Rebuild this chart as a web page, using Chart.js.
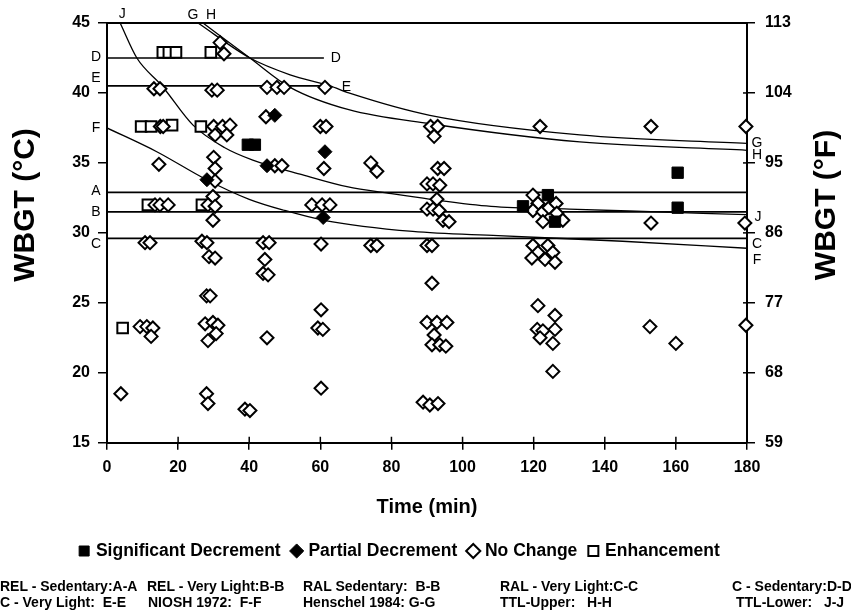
<!DOCTYPE html>
<html><head><meta charset="utf-8">
<script src="https://cdn.jsdelivr.net/npm/chart.js@4/dist/chart.umd.min.js"></script>
<style>
html,body{margin:0;padding:0;background:#fff;}
#wrap{position:relative;width:851px;height:614px;overflow:hidden;}
canvas{display:block;}
.note{position:absolute;font:bold 14px "Liberation Sans",Arial,sans-serif;white-space:pre;color:#000;line-height:16px;}
</style></head><body>
<div id="wrap"><canvas id="c" width="851" height="614"></canvas></div>
<script>
// ---------- data ----------
const xTicks = [0,20,40,60,80,100,120,140,160,180];
const cTicks = [15,20,25,30,35,40,45];
const fTicks = [59,68,77,86,95,104,113];

const sigTime = [39.6,41.6,117,124,126,160.5,160.5];
const sigTemp = [36.3,36.3,31.9,32.7,30.8,34.3,31.8];

const partTime = [28.1,45,47.2,60.8,61.3];
const partTemp = [33.8,34.8,38.4,31.1,35.8];

const enhTime = [4.4,9.6,12.4,15.7,17.4,19.4,11.5,18.3,26.4,26.7,29.2];
const enhTemp = [23.2,37.6,37.6,42.9,42.9,42.9,32.0,37.7,37.6,32.0,42.9];

const ncTime = [3.9,
 13.2,14.9,15.0,15.8,14.6,13.5,14.9,17.2,10.7,12.1,9.3,11.2,12.9,12.4,
 31.8,32.9,29.5,31.0,30.0,32.5,34.6,30.4,33.7,30.0,30.4,30.4,29.8,28.4,30.4,29.8,
 26.7,28.1,28.7,30.4,28.0,29.0,27.6,29.8,31.2,30.7,28.4,28.0,28.4,
 38.8,40.2,
 45.0,47.8,49.8,44.7,47.2,49.2,43.9,45.6,44.4,43.9,45.3,45.0,
 61.3,60.0,61.6,61.0,57.6,60.5,62.7,60.2,60.2,59.3,60.7,60.2,
 74.2,75.9,74.2,75.9,
 91.0,93.0,92.0,93.0,94.8,90.0,91.7,93.6,92.8,90.0,91.7,93.4,94.5,96.2,90.0,91.4,91.4,
 90.0,92.8,95.6,92.0,91.4,93.6,95.3,88.9,90.8,93.1,
 121.8,119.8,121.2,119.8,122.6,124.3,126.3,126.5,128.2,122.6,
 119.8,124.0,121.2,125.4,119.5,123.2,126.0,121.2,126.0,121.0,122.6,126.0,121.8,125.4,125.4,
 153,153,152.7,160,179.7,179.4,179.7];
const ncTemp = [18.5,
 40.3,40.3,37.6,37.6,34.9,32.0,32.0,32.0,29.3,29.3,23.3,23.3,23.2,22.6,
 43.6,42.8,40.2,40.2,37.6,37.6,37.7,37.0,37.0,35.4,34.6,33.7,32.6,32.0,31.9,30.9,
 29.4,29.3,28.3,28.2,25.5,25.5,23.5,23.6,23.4,22.8,22.3,18.5,17.8,
 17.4,17.3,
 40.4,40.4,40.4,38.3,34.8,34.8,29.3,29.3,28.1,27.1,27.0,22.5,
 40.4,37.6,37.6,34.6,32.0,32.0,32.0,29.2,24.5,23.2,23.1,18.9,
 35.0,34.4,29.1,29.1,
 37.6,37.6,36.9,34.6,34.6,33.5,33.5,33.4,32.4,31.7,31.7,31.6,30.9,30.8,29.1,29.1,26.4,
 23.6,23.6,23.6,22.7,22.0,22.0,21.9,17.9,17.7,17.8,
 37.6,32.7,32.1,31.6,31.5,31.8,32.1,31.4,30.9,30.8,
 29.1,29.1,28.6,28.6,28.2,28.1,27.9,24.8,24.1,23.1,23.0,23.1,22.5,22.1,20.1,
 37.6,30.7,23.3,22.1,37.6,30.7,23.4];

// limit lines (time, WBGT)
const lineA = [[0,32.9],[180,32.9]];
const lineB = [[0,31.5],[180,31.5]];
const lineC = [[0,29.6],[180,29.6]];
const lineD = [[0,42.5],[61,42.5]];
const lineE = [[0,40.5],[62,40.5]];
const curveF = [[0,37.5],[14,35.8],[28,33.8],[40,32.4],[50,31.6],[61,30.9],[86,30.1],[110,29.8],[145,29.4],[180,28.9]];
const curveG = [[25.6,45],[40.2,42.5],[51.5,41.3],[62.7,40.5],[68,40.0],[90.8,38.4],[133,37.0],[180,36.4]];
const curveH = [[27,45],[40.2,42.5],[51.5,40.4],[68,38.8],[90.8,37.8],[133,36.5],[180,35.9]];
const curveJ = [[3.7,45],[8.4,42.5],[15.5,40.5],[24.2,37.7],[33,36.1],[41,35.2],[54.3,34.2],[67.5,33.3],[80,32.8],[91,32.4],[108,31.9],[130,31.7],[155,31.5],[180,31.3]];

const legendNames = ['Significant Decrement','Partial Decrement','No Change','Enhancement'];
const noteRow1 = ['REL - Sedentary:A-A','REL - Very Light:B-B','RAL Sedentary:  B-B','RAL - Very Light:C-C','C - Sedentary:D-D'];
const noteRow2 = ['C - Very Light:  E-E','NIOSH 1972:  F-F','Henschel 1984: G-G','TTL-Upper:   H-H','TTL-Lower:   J-J'];

// ---------- build ----------
const pts = (xs, ys) => xs.map((t, i) => ({x: t, y: ys[i]}));
const pl = arr => arr.map(p => ({x: p[0], y: p[1]}));
const FONT = '"Liberation Sans", Arial, sans-serif';

function lineDs(arr, curved){
  return {type:'line', data: pl(arr), borderColor:'#000', borderWidth: curved?1.3:1.7,
    pointRadius:0, fill:false, showLine:true, tension: 0,
    cubicInterpolationMode: curved?'monotone':'default', order: 10};
}

const annot = {
  id:'annot',
  beforeDatasetsDraw(chart){
    const {ctx, chartArea:a} = chart;
    ctx.save();
    ctx.strokeStyle='#000'; ctx.lineWidth=2;
    ctx.beginPath(); ctx.moveTo(a.left, a.top); ctx.lineTo(a.right, a.top); ctx.stroke();
    ctx.restore();
  },
  afterDraw(chart){
    const {ctx, chartArea:a, scales} = chart;
    const x = scales.x, y = scales.y, y2 = scales.y2;
    ctx.save();
    ctx.strokeStyle='#000'; ctx.lineWidth=1.5;
    xTicks.forEach(v=>{const px=x.getPixelForValue(v); ctx.beginPath(); ctx.moveTo(px,a.bottom); ctx.lineTo(px,a.bottom-6); ctx.stroke();});
    fTicks.forEach(v=>{const py=y2.getPixelForValue(v); ctx.beginPath(); ctx.moveTo(a.right,py); ctx.lineTo(a.right-4,py); ctx.stroke();});
    ctx.fillStyle='#000';
    ctx.textAlign='center'; ctx.textBaseline='middle';
    ctx.font = '14px ' + FONT;
    const L = a.left - 11, R = a.right + 10;
    const t = (s, px, py) => ctx.fillText(s, px, py);
    t('D', L, y.getPixelForValue(lineD[0][1]) - 1);
    t('E', L, y.getPixelForValue(lineE[0][1]) - 8);
    t('F', L, y.getPixelForValue(curveF[0][1]));
    t('A', L, y.getPixelForValue(lineA[0][1]) - 1);
    t('B', L, y.getPixelForValue(lineB[0][1]));
    t('C', L, y.getPixelForValue(lineC[0][1]) + 6);
    t('D', x.getPixelForValue(lineD[1][0]) + 12, y.getPixelForValue(lineD[1][1]));
    t('E', x.getPixelForValue(lineE[1][0]) + 19, y.getPixelForValue(lineE[1][1]) + 1);
    t('J', x.getPixelForValue(curveJ[0][0]) + 2, a.top - 9);
    t('G', x.getPixelForValue(curveG[0][0]) - 5, a.top - 8);
    t('H', x.getPixelForValue(curveH[0][0]) + 8, a.top - 8);
    t('G', R, y.getPixelForValue(curveG[curveG.length-1][1]));
    t('H', R, y.getPixelForValue(curveH[curveH.length-1][1]) + 5);
    t('J', R + 1, y.getPixelForValue(curveJ[curveJ.length-1][1]) + 2);
    t('C', R, y.getPixelForValue(lineC[1][1]) + 6);
    t('F', R, y.getPixelForValue(curveF[curveF.length-1][1]) + 12);
    // axis titles
    ctx.font = 'bold 30px ' + FONT;
    const cy = a.top + 182;
    ctx.save(); ctx.translate(a.left - 81, cy); ctx.rotate(-Math.PI/2); ctx.fillText('WBGT (°C)', 0, 0); ctx.restore();
    ctx.save(); ctx.translate(a.right + 80, cy); ctx.rotate(-Math.PI/2); ctx.fillText('WBGT (°F)', 0, 0); ctx.restore();
    ctx.restore();
  }
};

const tickFont = {family: FONT, size: 16, weight: 'bold'};
const gridOut = len => ({display:true, drawOnChartArea:false, drawTicks:true, tickLength:len, color:'#000', lineWidth:1.5});

new Chart(document.getElementById('c'), {
  type:'scatter',
  data:{datasets:[
    {label:legendNames[0], data:pts(sigTime,sigTemp), pointStyle:'rect', pointRadius:8, backgroundColor:'#000', borderColor:'#000', borderWidth:1, clip:false, order:1},
    {label:legendNames[1], data:pts(partTime,partTemp), pointStyle:'rectRot', pointRadius:7, backgroundColor:'#000', borderColor:'#000', borderWidth:1, clip:false, order:2},
    {label:legendNames[2], data:pts(ncTime,ncTemp), pointStyle:'rectRot', pointRadius:6.5, backgroundColor:'#fff', borderColor:'#000', borderWidth:2, clip:false, order:3},
    {label:legendNames[3], data:pts(enhTime,enhTemp), pointStyle:'rect', pointRadius:7.5, backgroundColor:'#fff', borderColor:'#000', borderWidth:2, clip:false, order:4},
    lineDs(lineA,false), lineDs(lineB,false), lineDs(lineC,false), lineDs(lineD,false), lineDs(lineE,false),
    lineDs(curveF,true), lineDs(curveG,true), lineDs(curveH,true), lineDs(curveJ,true)
  ]},
  options:{
    responsive:false, animation:false, devicePixelRatio:1,
    layout:{padding:{top:23, bottom:44.25, left:0, right:50}},
    plugins:{
      tooltip:{enabled:false},
      legend:{position:'bottom', align:'center',
        labels:{filter:(it)=>it.datasetIndex<4, usePointStyle:true, boxWidth:6, boxHeight:10, padding:13, color:'#000',
          font:{family:FONT, size:17.5, weight:'bold'}}}
    },
    scales:{
      x:{type:'linear', min:0, max:180, position:'bottom',
        afterBuildTicks:s=>{s.ticks = xTicks.map(v=>({value:v}));},
        afterFit:s=>{s.height=86.5;},
        ticks:{font:tickFont, color:'#000', padding:8, maxRotation:0},
        grid:gridOut(7), border:{display:true, color:'#000', width:2},
        title:{display:true, text:'Time (min)', color:'#000', font:{family:FONT, size:20, weight:'bold'}, padding:{top:0,bottom:10}}},
      y:{type:'linear', min:15, max:45, position:'left',
        afterBuildTicks:s=>{s.ticks = cTicks.map(v=>({value:v}));},
        afterFit:s=>{s.width=107;},
        ticks:{font:tickFont, color:'#000', padding:8},
        grid:gridOut(9), border:{display:true, color:'#000', width:2}},
      y2:{type:'linear', min:59, max:113, position:'right',
        afterBuildTicks:s=>{s.ticks = fTicks.map(v=>({value:v}));},
        afterFit:s=>{s.width=54;},
        ticks:{font:tickFont, color:'#000', padding:10},
        grid:gridOut(8), border:{display:true, color:'#000', width:2}}
    }
  },
  plugins:[annot]
});

// footnotes
const wrap = document.getElementById('wrap');
const col1 = [0,147,303,500,732], col2 = [0,148,303,500,736];
function addNote(txt, left, top){ const d=document.createElement('div'); d.className='note'; d.textContent=txt; d.style.left=left+'px'; d.style.top=top+'px'; wrap.appendChild(d);}
noteRow1.forEach((s,i)=>addNote(s, col1[i], 578));
noteRow2.forEach((s,i)=>addNote(s, col2[i], 594));
</script>
</body></html>
